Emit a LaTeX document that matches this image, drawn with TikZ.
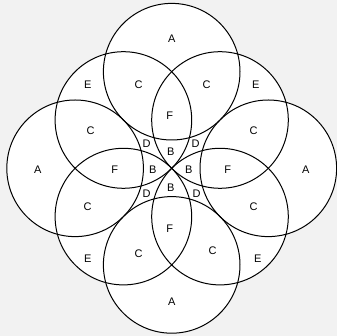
\documentclass[tikz,border=0pt]{standalone}
\usepackage{fontspec}
\setmainfont{Liberation Sans}
\usepackage{xcolor}
\usepackage{tikz}
\definecolor{pagegray}{HTML}{F2F2F2}
\tikzset{
  setcircle/.style={draw=black,line width=1pt},
  setfill/.style={fill=white},
  regionlabel/.style={font=\fontsize{11}{13}\selectfont,inner sep=0pt}
}

\begin{document}
\begin{tikzpicture}[x=1pt,y=1pt]
  % page and frame
  \fill[pagegray] (-171.7,-167.7) rectangle (165.3,168.3);
  \useasboundingbox (-171.7,-167.7) rectangle (165.3,168.3);
  \def\rad{68.3}
  % circle centres: four on the axes, four on the diagonals
  \coordinate (ctop) at (0,96.6);
  \coordinate (cleft) at (-96.6,0);
  \coordinate (cright) at (96.6,0);
  \coordinate (cbottom) at (0,-96.6);
  \coordinate (cul) at (-48.3,48.3);
  \coordinate (cur) at (48.3,48.3);
  \coordinate (cll) at (-48.3,-48.3);
  \coordinate (clr) at (48.3,-48.3);
  \foreach \c in {ctop,cleft,cright,cbottom,cul,cur,cll,clr}
    \fill[setfill] (\c) circle (\rad);
  \foreach \c in {ctop,cleft,cright,cbottom,cul,cur,cll,clr}
    \draw[setcircle] (\c) circle (\rad);
  % outer regions
  \node[regionlabel] (atop) at (0,130) {A};
  \node[regionlabel] (aleft) at (-134,-1) {A};
  \node[regionlabel] (aright) at (134,-1) {A};
  \node[regionlabel] (abottom) at (0,-133) {A};
  \node[regionlabel] (eul) at (-84,84) {E};
  \node[regionlabel] (eur) at (84,84) {E};
  \node[regionlabel] (ell) at (-84,-90) {E};
  \node[regionlabel] (elr) at (86,-90) {E};
  % two circle overlaps
  \node[regionlabel] (ctl) at (-33,84) {C};
  \node[regionlabel] (ctr) at (35,84) {C};
  \node[regionlabel] (clu) at (-81,38) {C};
  \node[regionlabel] (cld) at (-84,-38) {C};
  \node[regionlabel] (cru) at (82,38) {C};
  \node[regionlabel] (crd) at (82,-38) {C};
  \node[regionlabel] (cbl) at (-33,-85) {C};
  \node[regionlabel] (cbr) at (41,-82) {C};
  \node[regionlabel] (ftop) at (-2,53) {F};
  \node[regionlabel] (fleft) at (-57,-1) {F};
  \node[regionlabel] (fright) at (56,-1) {F};
  \node[regionlabel] (fbottom) at (-2,-60) {F};
  % centre
  \node[regionlabel] (dul) at (-25,25) {D};
  \node[regionlabel] (dur) at (24,25) {D};
  \node[regionlabel] (dll) at (-25,-25) {D};
  \node[regionlabel] (dlr) at (25,-25) {D};
  \node[regionlabel] (btop) at (-1,17) {B};
  \node[regionlabel] (bleft) at (-19,-1) {B};
  \node[regionlabel] (bright) at (17,-1) {B};
  \node[regionlabel] (bbottom) at (-1,-19) {B};
\end{tikzpicture}
\end{document}
